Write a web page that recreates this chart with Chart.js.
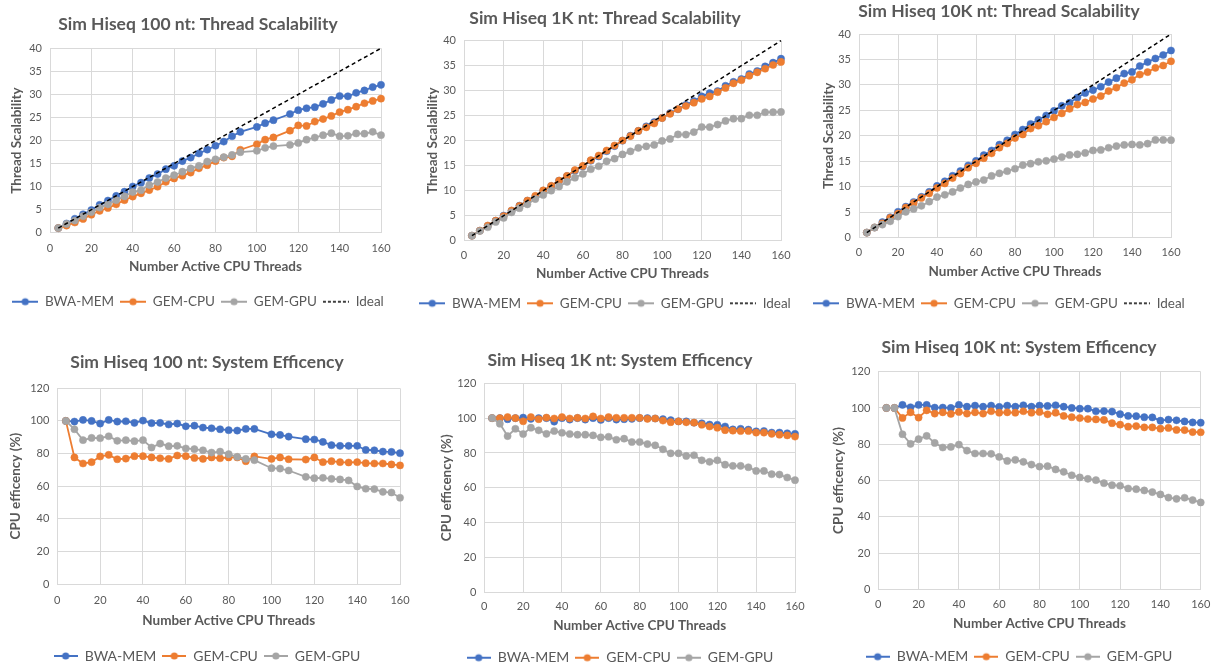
<!DOCTYPE html>
<html>
<head>
<meta charset="utf-8">
<title>Sim Hiseq thread scalability and system efficiency</title>
<script src="https://cdn.jsdelivr.net/npm/chart.js@4.4.1/dist/chart.umd.min.js"></script>
<style>
  html, body { margin: 0; padding: 0; background: #fff; overflow: hidden; }
  body { position: relative; width: 1219px; height: 665px; }
  canvas { position: absolute; }
</style>
</head>
<body>
<canvas id="scal100"></canvas>
<canvas id="scal1k"></canvas>
<canvas id="scal10k"></canvas>
<canvas id="eff100"></canvas>
<canvas id="eff1k"></canvas>
<canvas id="eff10k"></canvas>
<script>
// active CPU threads, one run every 4 threads
const threads = [4, 8, 12, 16, 20, 24, 28, 32, 36, 40, 44, 48, 52, 56, 60, 64, 68, 72, 76, 80,
                 84, 88, 92, 96, 100, 104, 108, 112, 116, 120, 124, 128, 132, 136, 140, 144, 148, 152, 156, 160];
const seriesNames = ['BWA-MEM', 'GEM-CPU', 'GEM-GPU'];
const idealThreads = [4, 160];
const idealScal = [1, 40];

// 100 nt (no runs at 96 and 112 threads)
const bwaScal100 = [1.00, 1.99, 3.02, 4.00, 4.92, 6.04, 6.97, 7.98, 8.89, 10.02, 10.85, 11.86, 12.71, 13.78, 14.51, 15.54, 16.30, 17.19, 18.03, 18.86,
                    19.76, 20.92, 21.87, null, 22.95, 23.76, 24.41, null, 25.75, 26.58, 27.00, 27.23, 27.95, 28.80, 29.65, 29.59, 30.34, 30.86, 31.59, 32.08];
const cpuScal100 = [1.00, 1.55, 2.22, 2.99, 3.91, 4.75, 5.36, 6.15, 7.06, 7.84, 8.54, 9.25, 9.97, 11.03, 11.76, 12.37, 13.04, 13.97, 14.65, 15.52,
                    16.30, 16.57, 17.99, null, 19.18, 20.18, 20.66, null, 22.13, 23.28, 23.16, 24.10, 24.65, 25.33, 26.15, 26.68, 27.34, 28.08, 28.59, 29.08];
const gpuScal100 = [1.00, 1.90, 2.65, 3.58, 4.47, 5.44, 6.15, 7.06, 7.88, 8.82, 9.21, 10.33, 10.99, 11.86, 12.47, 13.23, 13.94, 14.51, 15.43, 15.92,
                    16.38, 16.87, 17.46, null, 17.75, 18.41, 18.79, null, 19.05, 19.47, 20.18, 20.64, 21.15, 21.59, 20.93, 21.02, 21.53, 21.47, 21.88, 21.16];
const bwaEff100 = [100, 99.6, 100.6, 100, 98.4, 100.6, 99.6, 99.8, 98.8, 100.2, 98.6, 98.8, 97.8, 98.4, 96.7, 97.1, 95.9, 95.5, 94.9, 94.3,
                   94.1, 95.1, 95.1, null, 91.8, 91.4, 90.4, null, 88.8, 88.6, 87.1, 85.1, 84.7, 84.7, 84.7, 82.2, 82.0, 81.2, 81.0, 80.2];
const cpuEff100 = [100, 77.6, 73.9, 74.7, 78.2, 79.2, 76.5, 76.9, 78.4, 78.4, 77.6, 77.1, 76.7, 78.8, 78.4, 77.3, 76.7, 77.6, 77.1, 77.6,
                   77.6, 75.3, 78.2, null, 76.7, 77.6, 76.5, null, 76.3, 77.6, 74.7, 75.3, 74.7, 74.5, 74.7, 74.1, 73.9, 73.9, 73.3, 72.7];
const gpuEff100 = [100, 94.9, 88.2, 89.6, 89.4, 90.6, 87.8, 88.2, 87.6, 88.2, 83.7, 86.1, 84.5, 84.7, 83.1, 82.7, 82.0, 80.6, 81.2, 79.6,
                   78.0, 76.7, 75.9, null, 71.0, 70.8, 69.6, null, 65.7, 64.9, 65.1, 64.5, 64.1, 63.5, 59.8, 58.4, 58.2, 56.5, 56.1, 52.9];

// 1K nt
const bwaScal1k = [1.00, 2.00, 2.98, 4.00, 5.02, 5.98, 7.00, 8.00, 8.82, 10.00, 10.91, 12.00, 12.90, 14.00, 14.85, 16.00, 16.86, 17.89, 18.92, 20.00,
                   21.00, 21.96, 22.86, 23.71, 24.55, 25.51, 26.30, 27.16, 27.93, 28.86, 29.51, 29.92, 30.99, 31.76, 32.34, 33.34, 33.93, 34.85, 35.61, 36.40];
const cpuScal1k = [1.00, 2.00, 3.02, 4.00, 4.91, 6.04, 6.96, 8.02, 8.98, 10.06, 10.98, 12.02, 12.97, 14.14, 14.97, 16.10, 17.03, 18.04, 19.04, 20.04,
                   20.92, 21.96, 22.68, 23.45, 24.53, 25.38, 26.30, 26.94, 27.61, 28.35, 28.86, 29.70, 30.56, 31.48, 32.10, 33.01, 33.67, 34.39, 35.14, 35.76];
const gpuScal1k = [1.00, 1.94, 2.69, 3.76, 4.55, 5.67, 6.51, 7.28, 8.33, 9.16, 10.00, 10.86, 11.77, 12.61, 13.35, 14.29, 14.89, 15.88, 16.40, 17.26,
                   17.87, 18.57, 18.88, 19.15, 19.95, 20.36, 21.25, 21.22, 21.72, 22.74, 22.72, 23.23, 23.96, 24.41, 24.40, 25.09, 25.09, 25.69, 25.70, 25.76];
const bwaEff1k = [100, 100, 99.4, 100, 100.3, 99.6, 100, 100, 98.0, 100, 99.2, 100, 99.2, 100, 99.0, 100, 99.2, 99.4, 99.6, 100,
                  100, 99.8, 99.4, 98.8, 98.2, 98.1, 97.4, 97.0, 96.3, 96.2, 95.2, 93.5, 93.9, 93.4, 92.4, 92.6, 91.7, 91.7, 91.3, 91.0];
const cpuEff1k = [100, 100, 100.6, 100, 98.2, 100.6, 99.4, 100.3, 99.8, 100.6, 99.8, 100.2, 99.8, 101.0, 99.8, 100.6, 100.2, 100.2, 100.2, 100.2,
                  99.6, 99.8, 98.6, 97.7, 98.1, 97.6, 97.4, 96.2, 95.2, 94.5, 93.1, 92.8, 92.6, 92.6, 91.7, 91.7, 91.0, 90.5, 90.1, 89.4];
const gpuEff1k = [100, 96.8, 89.7, 93.9, 90.9, 94.5, 93.0, 91.0, 92.6, 91.6, 90.9, 90.5, 90.5, 90.1, 89.0, 89.3, 87.6, 88.2, 86.3, 86.3,
                  85.1, 84.4, 82.1, 79.8, 79.8, 78.3, 78.7, 75.8, 74.9, 75.8, 73.3, 72.6, 72.6, 71.8, 69.7, 69.7, 67.8, 67.6, 65.9, 64.4];

// 10K nt
const bwaScal10k = [1.00, 2.00, 3.05, 4.02, 5.09, 6.10, 7.01, 8.02, 9.00, 10.17, 11.08, 12.16, 13.09, 14.18, 15.09, 16.21, 17.12, 18.27, 19.13, 20.26,
                    21.23, 22.33, 23.16, 24.00, 24.90, 25.90, 26.51, 27.52, 28.42, 28.98, 29.64, 30.56, 31.32, 32.23, 32.55, 33.70, 34.48, 35.19, 35.88, 36.76];
const cpuScal10k = [1.00, 2.00, 2.84, 3.90, 4.74, 5.92, 6.78, 7.81, 8.70, 9.78, 10.66, 11.71, 12.60, 13.75, 14.61, 15.62, 16.56, 17.68, 18.51, 19.56,
                    20.27, 21.43, 21.99, 22.78, 23.60, 24.41, 25.30, 26.15, 26.56, 27.24, 27.81, 28.80, 29.47, 30.36, 31.01, 32.04, 32.52, 33.36, 33.81, 34.64];
const gpuScal10k = [1.00, 2.00, 2.57, 3.21, 4.14, 5.08, 5.65, 6.26, 7.07, 7.98, 8.42, 8.99, 9.74, 10.46, 10.95, 11.33, 12.14, 12.65, 13.07, 13.54,
                    14.26, 14.54, 14.90, 15.10, 15.43, 15.83, 16.25, 16.38, 16.65, 17.13, 17.24, 17.66, 17.99, 18.22, 18.31, 18.22, 18.46, 19.19, 19.19, 19.16];
const bwaEff10k = [100, 100, 101.7, 100.4, 101.7, 101.7, 100.2, 100.2, 100, 101.7, 100.7, 101.3, 100.7, 101.3, 100.6, 101.3, 100.7, 101.5, 100.7, 101.3,
                   101.1, 101.5, 100.7, 100.0, 99.6, 99.6, 98.2, 98.3, 98.0, 96.6, 95.6, 95.5, 94.9, 94.8, 93.0, 93.6, 93.2, 92.6, 92.0, 91.9];
const cpuEff10k = [100, 100, 94.5, 97.6, 94.7, 98.7, 96.9, 97.6, 96.7, 97.8, 96.9, 97.6, 96.9, 98.2, 97.4, 97.6, 97.4, 98.2, 97.4, 97.8,
                   96.5, 97.4, 95.6, 94.9, 94.4, 93.9, 93.7, 93.4, 91.6, 90.8, 89.7, 90.0, 89.3, 89.3, 88.6, 89.0, 87.9, 87.8, 86.7, 86.6];
const gpuEff10k = [100, 100, 85.5, 80.2, 82.8, 84.6, 80.7, 78.2, 78.5, 79.8, 76.5, 74.9, 74.9, 74.7, 73.0, 70.8, 71.4, 70.3, 68.8, 67.7,
                   67.9, 66.1, 64.8, 62.9, 61.7, 60.9, 60.2, 58.5, 57.4, 57.1, 55.6, 55.2, 54.5, 53.6, 52.3, 50.6, 49.9, 50.5, 49.2, 47.9];

const COLORS = ['#4472C4', '#ED7D31', '#A5A5A5'];
const TEXT = '#595959';
const GRID = '#D9D9D9';
const FONT = 'Lato, "Open Sans", sans-serif';
const TITLE_SIZE = 17.5, AXIS_SIZE = 13.5, TICK_SIZE = 11;
const LEGEND_PAD = 6;

// line-with-marker legend symbols
function legendIcon(color, width, dashed) {
  const c = document.createElement('canvas');
  c.width = width; c.height = 10;
  const g = c.getContext('2d');
  g.strokeStyle = color;
  g.lineWidth = dashed ? 1.5 : 2;
  if (dashed) g.setLineDash([3, 2]);
  g.beginPath(); g.moveTo(0, 5); g.lineTo(width, 5); g.stroke();
  if (!dashed) {
    g.fillStyle = color;
    g.beginPath(); g.arc(width / 2, 5, 3.6, 0, Math.PI * 2); g.fill();
  }
  return c;
}

function points(xs, ys) {
  return xs.map((x, i) => ({ x: x, y: ys[i] }));
}

function makeChart(id, spec) {
  const b = spec.box;
  const legendSize = spec.legendSize;
  const titleLH = TITLE_SIZE * 1.2, axisLH = AXIS_SIZE * 1.2, tickLH = TICK_SIZE * 1.2;
  // the canvas is centred on cx so title and legend centre there too
  const left = b.cx - spec.half;
  const right = b.cx + spec.half;
  const top = Math.floor(b.titleY - titleLH / 2 - 4);
  const legendTop = b.legendY - LEGEND_PAD - legendSize / 2;
  const legendH = legendSize + LEGEND_PAD + 10;
  const bottom = Math.ceil(legendTop + legendH);

  const canvas = document.getElementById(id);
  canvas.width = right - left;
  canvas.height = bottom - top;
  canvas.style.left = left + 'px';
  canvas.style.top = top + 'px';

  const yWidth = b.l - left;
  const rightGap = right - b.r;
  const xHeight = legendTop - b.b;
  const iconW = spec.iconWidth;

  const datasets = spec.series.map((vals, i) => ({
    label: seriesNames[i],
    data: points(threads, vals),
    borderColor: COLORS[i],
    backgroundColor: COLORS[i],
    pointBackgroundColor: COLORS[i],
    pointBorderColor: COLORS[i],
    borderWidth: 1.8,
    pointRadius: 3.6,
    pointBorderWidth: 0.5,
    spanGaps: true,
    clip: false,
    order: 10 - i
  }));
  if (spec.ideal) {
    datasets.push({
      label: 'Ideal',
      data: points(idealThreads, idealScal),
      borderColor: '#000',
      backgroundColor: '#000',
      borderWidth: 1.5,
      borderDash: [4, 3],
      pointRadius: 0,
      clip: false,
      order: 1
    });
  }
  const icons = datasets.map(d => legendIcon(d.borderColor, iconW, d.label === 'Ideal'));

  return new Chart(canvas, {
    type: 'line',
    data: { datasets: datasets },
    options: {
      responsive: false,
      animation: false,
      devicePixelRatio: 1,
      layout: {
        padding: { left: 0, right: 0, top: 0, bottom: bottom - (legendTop + legendH) }
      },
      plugins: {
        title: {
          display: true,
          text: spec.title,
          color: TEXT,
          font: { family: FONT, size: TITLE_SIZE, weight: 'bold' },
          padding: { top: b.titleY - titleLH / 2 - top, bottom: b.t - (b.titleY + titleLH / 2) }
        },
        legend: {
          position: 'bottom',
          labels: {
            usePointStyle: true,
            pointStyleWidth: iconW,
            padding: LEGEND_PAD,
            color: TEXT,
            font: { family: FONT, size: legendSize },
            generateLabels(chart) {
              const items = Chart.defaults.plugins.legend.labels.generateLabels(chart);
              items.forEach(it => { it.pointStyle = icons[it.datasetIndex]; });
              return items.sort((a, c) => a.datasetIndex - c.datasetIndex);
            }
          }
        },
        tooltip: { enabled: false }
      },
      scales: {
        x: {
          type: 'linear',
          min: 0,
          max: 160,
          afterFit(scale) { scale.height = xHeight; },
          ticks: {
            stepSize: 20,
            padding: b.tickY - b.b - tickLH / 2,
            color: TEXT,
            font: { family: FONT, size: TICK_SIZE },
            maxRotation: 0
          },
          grid: { color: GRID, drawTicks: false },
          border: { color: GRID },
          title: {
            display: true,
            text: 'Number Active CPU Threads',
            color: TEXT,
            font: { family: FONT, size: AXIS_SIZE, weight: 'bold' },
            padding: { top: 0, bottom: legendTop - b.xTitleY - axisLH / 2 }
          }
        },
        y: {
          min: 0,
          max: spec.yMax,
          afterFit(scale) { scale.width = yWidth; },
          ticks: {
            stepSize: spec.yStep,
            padding: 8,
            color: TEXT,
            font: { family: FONT, size: TICK_SIZE }
          },
          grid: { color: GRID, drawTicks: false },
          border: { color: GRID },
          title: {
            display: true,
            text: spec.yTitle,
            color: TEXT,
            font: { family: FONT, size: AXIS_SIZE, weight: 'bold' },
            padding: { top: b.yTitleX - left - axisLH / 2, bottom: 0 }
          }
        },
        // empty right-hand axis keeps the plot's right edge in place
        gap: {
          position: 'right',
          afterFit(scale) { scale.width = rightGap; },
          ticks: { display: false },
          grid: { display: false },
          border: { display: false }
        }
      }
    }
  });
}

makeChart('scal100', {
  title: 'Sim Hiseq 100 nt: Thread Scalability',
  yTitle: 'Thread Scalability', yMax: 40, yStep: 5, ideal: true, iconWidth: 26, legendSize: 13.5, half: 204,
  series: [bwaScal100, cpuScal100, gpuScal100],
  box: { l: 50, r: 381, t: 48.3, b: 232.7, cx: 198, titleY: 24, tickY: 248.3, xTitleY: 266.7, yTitleX: 16.7, legendY: 301.7 }
});
makeChart('scal1k', {
  title: 'Sim Hiseq 1K nt: Thread Scalability',
  yTitle: 'Thread Scalability', yMax: 40, yStep: 5, ideal: true, iconWidth: 26, legendSize: 13.5, half: 204,
  series: [bwaScal1k, cpuScal1k, gpuScal1k],
  box: { l: 464, r: 781, t: 40.7, b: 240.7, cx: 605, titleY: 18.3, tickY: 255, xTitleY: 273.3, yTitleX: 432.3, legendY: 303.3 }
});
makeChart('scal10k', {
  title: 'Sim Hiseq 10K nt: Thread Scalability',
  yTitle: 'Thread Scalability', yMax: 40, yStep: 5, ideal: true, iconWidth: 26, legendSize: 13.5, half: 204,
  series: [bwaScal10k, cpuScal10k, gpuScal10k],
  box: { l: 859, r: 1171, t: 34, b: 237.7, cx: 999, titleY: 11.7, tickY: 252.3, xTitleY: 271.7, yTitleX: 828.3, legendY: 303.3 }
});
makeChart('eff100', {
  title: 'Sim Hiseq 100 nt: System Efficency',
  yTitle: 'CPU efficency (%)', yMax: 120, yStep: 20, ideal: false, iconWidth: 24, legendSize: 14, half: 212,
  series: [bwaEff100, cpuEff100, gpuEff100],
  box: { l: 57.3, r: 401, t: 388.3, b: 584, cx: 207, titleY: 362.7, tickY: 600, xTitleY: 621, yTitleX: 16, legendY: 656 }
});
makeChart('eff1k', {
  title: 'Sim Hiseq 1K nt: System Efficency',
  yTitle: 'CPU efficency (%)', yMax: 120, yStep: 20, ideal: false, iconWidth: 24, legendSize: 14, half: 212,
  series: [bwaEff1k, cpuEff1k, gpuEff1k],
  box: { l: 484.3, r: 795, t: 383.3, b: 592.3, cx: 620, titleY: 360, tickY: 606.7, xTitleY: 625.7, yTitleX: 446.7, legendY: 657.7 }
});
makeChart('eff10k', {
  title: 'Sim Hiseq 10K nt: System Efficency',
  yTitle: 'CPU efficency (%)', yMax: 120, yStep: 20, ideal: false, iconWidth: 24, legendSize: 14, half: 212,
  series: [bwaEff10k, cpuEff10k, gpuEff10k],
  box: { l: 878.3, r: 1200.7, t: 371.7, b: 589.3, cx: 1019, titleY: 347.7, tickY: 604.3, xTitleY: 624, yTitleX: 838.3, legendY: 656.7 }
});
</script>
</body>
</html>
